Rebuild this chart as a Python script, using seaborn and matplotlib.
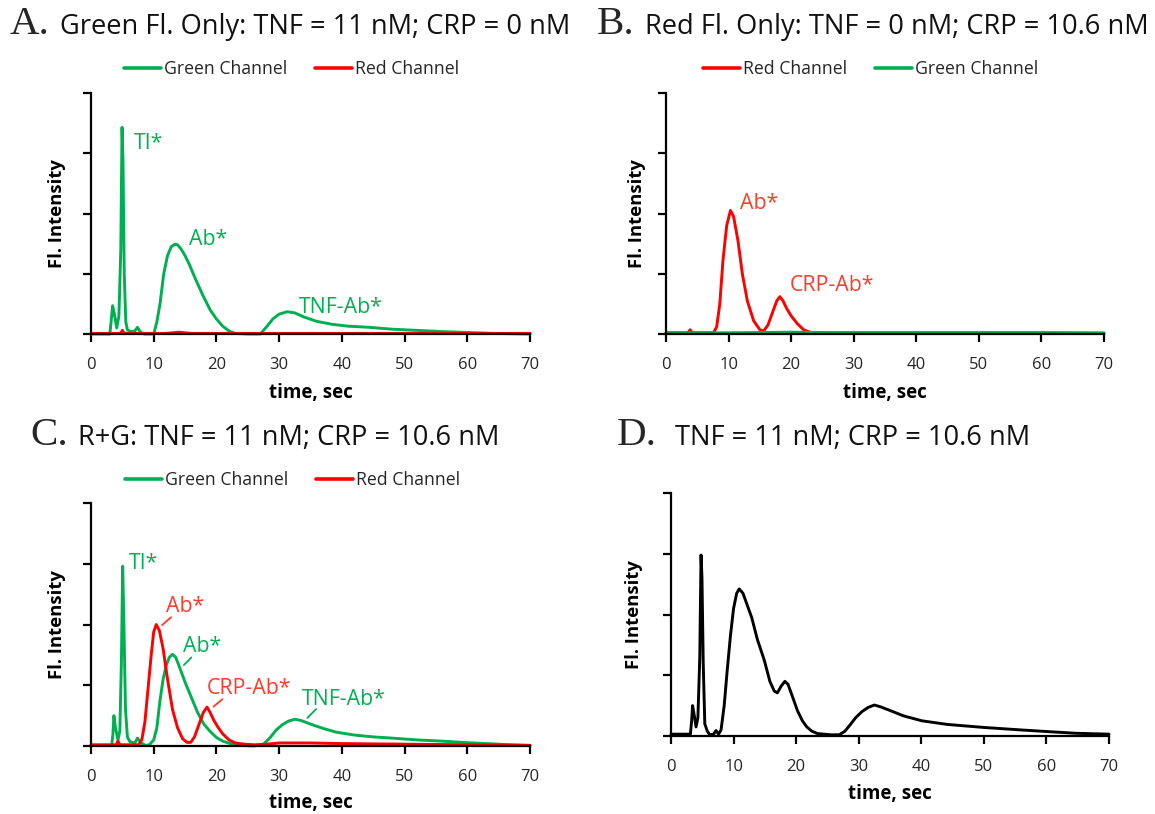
import numpy as np
import pandas as pd
import matplotlib
matplotlib.use("Agg")
import matplotlib.pyplot as plt
import seaborn as sns

# ---------------- data ----------------
# Panel A: Green Fl. only
a_green_t = [0, 3.0, 3.2, 3.45, 3.75, 4.1, 4.45, 4.75, 4.95, 5.1, 5.3, 5.55, 5.8, 6.3, 7.0, 7.4, 7.9, 8.5, 10.0, 10.5, 11.0, 11.6,
             12.2, 12.8, 13.4, 13.8, 14.3, 15.0, 15.7, 16.5, 17.8, 19.0, 20.0, 21.0, 22.0, 23.0, 25.0, 27.0, 28.0, 29.0,
             30.0, 31.3, 32.5, 34.0, 36.0, 38.5, 41.0, 44.5, 48.0, 52.0, 56.0, 60.0, 64.0, 70.0]
a_green_y = [0.0, 0.0, 0.2, 0.47, 0.32, 0.1, 0.3, 1.4, 3.43, 2.9, 1.0, 0.2, 0.07, 0.04, 0.05, 0.11, 0.03, 0.0, 0.0, 0.2,
             0.5, 1.0, 1.3, 1.45, 1.49, 1.48, 1.42, 1.3, 1.15, 0.95, 0.65, 0.4, 0.25, 0.13, 0.05, 0.01, 0.0, 0.0, 0.12,
             0.25, 0.33, 0.37, 0.35, 0.28, 0.21, 0.16, 0.13, 0.11, 0.08, 0.06, 0.04, 0.025, 0.01, 0.0]
a_red_t = [0, 4.7, 5.0, 5.3, 12.0, 14.0, 16.0, 70.0]
a_red_y = [0.01, 0.01, 0.06, 0.01, 0.01, 0.03, 0.01, 0.01]

# Panel B: Red Fl. only
b_red_t = [0, 3.5, 3.85, 4.2, 7.6, 8.1, 8.6, 9.1, 9.7, 10.3, 10.8, 11.5, 12.2, 13.0, 14.0, 15.0, 15.6, 16.3, 17.0,
           17.7, 18.2, 18.7, 19.3, 20.0, 21.0, 22.0, 23.0, 24.0, 30.0, 40.0, 50.0, 60.0, 70.0]
b_red_y = [0.02, 0.02, 0.07, 0.02, 0.02, 0.12, 0.5, 1.22, 1.8, 2.05, 1.95, 1.55, 1.0, 0.55, 0.22, 0.07, 0.05, 0.15,
           0.35, 0.55, 0.62, 0.55, 0.42, 0.3, 0.17, 0.07, 0.03, 0.02, 0.02, 0.02, 0.02, 0.02, 0.01]
b_green_t = [0, 10, 20, 30, 40, 50, 60, 70]
b_green_y = [0.02, 0.02, 0.03, 0.02, 0.02, 0.02, 0.02, 0.02]

# Panel C: R+G
c_green_t = [0, 3.3, 3.5, 3.65, 3.9, 4.3, 4.6, 4.85, 5.05, 5.25, 5.5, 5.8, 6.2, 7.0, 7.4, 8.0, 8.7, 9.3, 10.0, 10.5,
             11.0, 11.5, 12.0, 12.5, 13.0, 13.5, 14.0, 15.0, 16.0, 17.0, 18.0, 19.0, 20.0, 21.0, 22.5, 24.0, 26.0,
             27.5, 28.5, 29.5, 30.5, 31.5, 32.5, 33.5, 35.0, 37.0, 39.0, 42.0, 45.0, 48.0, 52.0, 56.0, 60.0, 64.0,
             67.0, 70.0]
c_green_y = [0.01, 0.01, 0.2, 0.5, 0.3, 0.1, 0.25, 1.4, 2.96, 2.0, 0.6, 0.15, 0.07, 0.05, 0.13, 0.05, 0.01, 0.02,
             0.1, 0.3, 0.75, 1.1, 1.33, 1.46, 1.51, 1.46, 1.33, 1.05, 0.8, 0.55, 0.36, 0.24, 0.14, 0.08, 0.03, 0.01,
             0.0, 0.03, 0.13, 0.26, 0.35, 0.41, 0.44, 0.42, 0.36, 0.29, 0.23, 0.18, 0.15, 0.13, 0.1, 0.08, 0.055,
             0.035, 0.02, 0.01]
c_red_t = [0, 4.0, 4.3, 4.6, 7.6, 8.1, 8.6, 9.1, 9.6, 10.0, 10.4, 10.9, 11.5, 12.2, 13.0, 13.8, 14.6, 15.3, 15.9,
           16.5, 17.2, 17.9, 18.5, 19.0, 19.6, 20.3, 21.0, 22.0, 23.0, 24.5, 26.0, 28.0, 30.0, 35.0, 40.0, 50.0,
           60.0, 70.0]
c_red_y = [0.02, 0.02, 0.08, 0.02, 0.02, 0.1, 0.4, 0.95, 1.5, 1.88, 2.0, 1.9, 1.6, 1.1, 0.6, 0.3, 0.12, 0.06, 0.06,
           0.15, 0.35, 0.55, 0.64, 0.55, 0.42, 0.3, 0.2, 0.1, 0.05, 0.03, 0.02, 0.03, 0.05, 0.05, 0.04, 0.03, 0.02,
           0.01]

# Panel D: combined signal
d_t = [0, 3.1, 3.3, 3.45, 3.7, 4.0, 4.3, 4.6, 4.8, 4.95, 5.15, 5.4, 5.8, 6.2, 6.8, 7.2, 7.6, 8.0, 8.5, 9.0, 9.5,
       10.0, 10.5, 10.9, 11.5, 12.3, 12.9, 13.8, 14.9, 15.8, 16.5, 17.0, 17.6, 18.2, 18.7, 19.2, 20.2, 21.0, 21.7,
       22.5, 23.4, 25.5, 26.9, 27.8, 28.6, 29.5, 30.5, 31.5, 32.5, 33.5, 35.0, 37.2, 40.1, 44.2, 50.1, 55.9, 60.6,
       64.7, 70.0]
d_y = [0.03, 0.03, 0.25, 0.5, 0.35, 0.15, 0.3, 1.3, 2.98, 2.6, 1.2, 0.2, 0.08, 0.02, 0.03, 0.09, 0.03, 0.1, 0.5,
       1.1, 1.65, 2.1, 2.35, 2.42, 2.35, 2.12, 1.95, 1.59, 1.25, 0.9, 0.74, 0.71, 0.82, 0.9, 0.85, 0.71, 0.42, 0.25,
       0.15, 0.08, 0.04, 0.02, 0.02, 0.08, 0.18, 0.3, 0.4, 0.47, 0.51, 0.48, 0.42, 0.33, 0.25, 0.19, 0.14, 0.1, 0.07,
       0.045, 0.03]

x_ticks = [0, 10, 20, 30, 40, 50, 60, 70]
y_ticks = [0, 1, 2, 3, 4]

letters = ["A.", "B.", "C.", "D."]
titles = ["Green Fl. Only: TNF = 11 nM; CRP = 0 nM",
          "Red Fl. Only: TNF = 0 nM; CRP = 10.6 nM",
          "R+G: TNF = 11 nM; CRP = 10.6 nM",
          "TNF = 11 nM; CRP = 10.6 nM"]
green_name = "Green Channel"
red_name = "Red Channel"
x_label = "time, sec"
y_label = "Fl. Intensity"

# ---------------- style ----------------
sns.set_style("ticks")
plt.rcParams['font.family'] = ['Open Sans', 'DejaVu Sans']

GREEN = "#00B050"
RED = "#FF0000"
GREEN_TXT = "#00B050"
RED_TXT = "#FF3A2A"
LW = 2.1

W, H = 1155, 814
fig = plt.figure(figsize=(W / 100, H / 100), dpi=100)


def px_axes(x0, x1, y0, y1):
    return fig.add_axes([x0 / W, 1 - y1 / H, (x1 - x0) / W, (y1 - y0) / H])


axA = px_axes(91, 530, 93, 334)
axB = px_axes(666, 1104, 93, 334)
axC = px_axes(91, 530, 503, 746)
axD = px_axes(671, 1109, 493, 736)


def draw(ax, t, y, color, label=None):
    df = pd.DataFrame({"t": t, "y": y})
    sns.lineplot(data=df, x="t", y="y", ax=ax, color=color, lw=LW, label=label,
                 estimator=None, sort=False, legend=bool(label))


draw(axA, a_green_t, a_green_y, GREEN, green_name)
draw(axA, a_red_t, a_red_y, RED, red_name)
draw(axB, b_red_t, b_red_y, RED, red_name)
draw(axB, b_green_t, b_green_y, GREEN, green_name)
draw(axC, c_green_t, c_green_y, GREEN, green_name)
draw(axC, c_red_t, c_red_y, RED, red_name)
draw(axD, d_t, d_y, "black")

for ax, xl_y, yl_x in [(axA, -0.245, -0.078), (axB, -0.245, -0.066), (axC, -0.235, -0.078), (axD, -0.24, -0.085)]:
    ax.set_xlim(0, 70)
    ax.set_ylim(0, 4)
    ax.set_xticks(x_ticks)
    ax.set_yticks(y_ticks)
    ax.set_yticklabels([])
    ax.spines[['top', 'right']].set_visible(False)
    for s in ['left', 'bottom']:
        ax.spines[s].set_linewidth(1.6)
        ax.spines[s].set_color('black')
    ax.tick_params(axis='both', direction='out', length=6, width=1.6, color='black')
    ax.tick_params(axis='x', pad=10.5, labelsize=12, labelcolor='#262626')
    ax.set_xlabel(x_label, fontsize=13.5, fontweight='bold', color='black')
    ax.set_ylabel(y_label, fontsize=13.3, fontweight='bold', color='black')
    ax.xaxis.set_label_coords(0.5, xl_y)
    ax.xaxis.label.set_va('center')
    ax.yaxis.set_label_coords(yl_x, 0.5)
    ax.yaxis.label.set_va('center')
    for ln in ax.lines:
        ln.set_clip_on(False)

# legends
for ax, cx, cy in [(axA, 0.457, 1.10), (axB, 0.467, 1.10), (axC, 0.459, 1.095)]:
    leg = ax.legend(loc='center', bbox_to_anchor=(cx, cy), ncol=2, frameon=False, fontsize=12.7,
                    handlelength=2.1, handletextpad=0.15, columnspacing=1.6, borderaxespad=0)
    for h in leg.get_lines():
        h.set_linewidth(2.6)
    for txt in leg.get_texts():
        txt.set_color('#262626')

# panel titles
for (lx, tx, by), letter, title in zip([(10, 60, 34), (597, 645, 34), (30, 78, 445), (617, 675, 445)], letters, titles):
    fig.text(lx / W, 1 - by / H, letter, family='Liberation Serif', fontsize=29.5, va='baseline', ha='left')
    fig.text(tx / W, 1 - by / H, title, fontsize=19.6, va='baseline', ha='left', color='#111111')

# peak annotations
ann = dict(fontsize=15.3, va='center', ha='left')
axA.text(6.8, 3.17, "TI*", color=GREEN_TXT, **ann)
axA.text(15.7, 1.57, "Ab*", color=GREEN_TXT, **ann)
axA.text(33.1, 0.44, "TNF-Ab*", color=GREEN_TXT, **ann)
axB.text(11.9, 2.17, "Ab*", color=RED_TXT, **ann)
axB.text(19.7, 0.80, "CRP-Ab*", color=RED_TXT, **ann)
axC.text(6.0, 3.01, "TI*", color=GREEN_TXT, **ann)

lead = [("Ab*", RED_TXT, (11.9, 2.29), (13.1, 2.15), (11.0, 1.96)),
        ("Ab*", GREEN_TXT, (14.6, 1.63), (16.3, 1.49), (14.5, 1.30)),
        ("CRP-Ab*", RED_TXT, (18.4, 0.94), (21.3, 0.80), (19.2, 0.62)),
        ("TNF-Ab*", GREEN_TXT, (33.6, 0.77), (36.2, 0.64), (34.2, 0.43))]
for label, col, tpos, p0, p1 in lead:
    axC.text(tpos[0], tpos[1], label, color=col, **ann)
    axC.annotate("", xy=p1, xytext=p0, arrowprops=dict(arrowstyle='-', color=col, lw=1.3))

fig.savefig("out.png", dpi=100)
